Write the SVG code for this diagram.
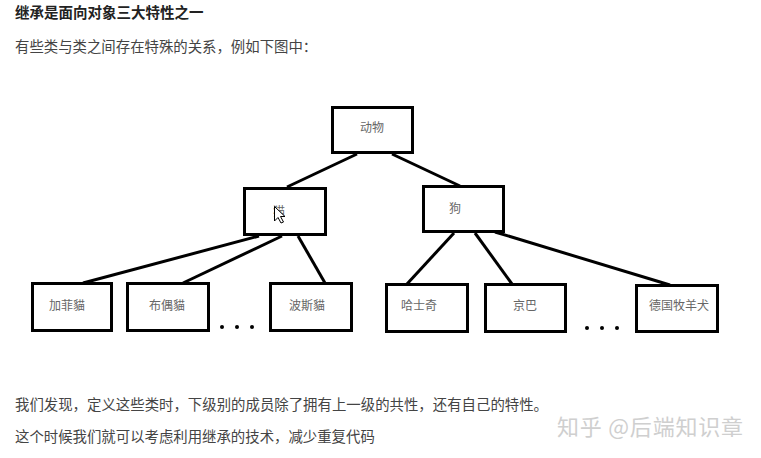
<svg xmlns="http://www.w3.org/2000/svg" width="761" height="458" viewBox="0 0 761 458">
<style>
.box{fill:#fff;stroke:#000;stroke-width:3}
.lbl{font-family:"Liberation Serif","Noto Sans CJK SC",serif;font-size:12px;fill:#666;text-anchor:middle}
.body{font-family:"Noto Sans CJK SC","Liberation Sans",sans-serif;font-size:14.4px;fill:#444}
.conn line{stroke:#000;stroke-width:3}
.dot{fill:#000}
</style>
<rect width="761" height="458" fill="#fff"/>
<text x="15" y="18" class="body" style="font-weight:bold;fill:#222;font-size:14.5px">继承是面向对象三大特性之一</text>
<text x="15" y="52" class="body">有些类与类之间存在特殊的关系，例如下图中：</text>
<g id="connectors" class="conn">
<line x1="357" y1="154" x2="287" y2="187"/>
<line x1="392" y1="154" x2="460" y2="186"/>
<line x1="259" y1="236" x2="83" y2="283"/>
<line x1="282" y1="236" x2="183" y2="283"/>
<line x1="298" y1="236" x2="325" y2="283"/>
<line x1="454" y1="233" x2="407" y2="284"/>
<line x1="475" y1="233" x2="512" y2="284"/>
<line x1="495" y1="232" x2="670" y2="285"/>
</g>
<g id="animal"><rect class="box" x="332.5" y="107.5" width="80" height="45"/><text class="lbl" x="372" y="132">动物</text></g>
<g id="cat"><rect class="box" x="244.5" y="188.5" width="81" height="46"/><text class="lbl" x="279" y="216">猫</text></g>
<g id="dog"><rect class="box" x="423.5" y="186.5" width="80" height="45"/><text class="lbl" x="455" y="213">狗</text></g>
<g id="garfield"><rect class="box" x="32.5" y="283.5" width="79" height="47"/><text class="lbl" x="67" y="310">加菲貓</text></g>
<g id="ragdoll"><rect class="box" x="127.5" y="283.5" width="81" height="47"/><text class="lbl" x="167" y="310">布偶貓</text></g>
<g id="persian"><rect class="box" x="270.5" y="283.5" width="81" height="47"/><text class="lbl" x="307" y="310">波斯貓</text></g>
<g id="husky"><rect class="box" x="386.5" y="284.5" width="81" height="47"/><text class="lbl" x="419" y="310">哈士奇</text></g>
<g id="jingba"><rect class="box" x="485.5" y="284.5" width="80" height="47"/><text class="lbl" x="525" y="310">京巴</text></g>
<g id="shepherd"><rect class="box" x="636.5" y="285.5" width="81" height="46"/><text class="lbl" x="679" y="310">德国牧羊犬</text></g>
<g id="dots-left"><circle class="dot" cx="222" cy="327" r="2"/><circle class="dot" cx="237" cy="327" r="2"/><circle class="dot" cx="252" cy="327" r="2"/></g>
<g id="dots-right"><circle class="dot" cx="587" cy="328" r="2"/><circle class="dot" cx="602" cy="328" r="2"/><circle class="dot" cx="617" cy="328" r="2"/></g>
<polygon points="274.5,206.5 274.5,221 278,217.5 281,223 283.5,222 280.5,216.5 285,216.5" fill="#fff" stroke="#000" stroke-width="1"/>
<text x="15" y="410" class="body" textLength="533">我们发现，定义这些类时，下级别的成员除了拥有上一级的共性，还有自己的特性。</text>
<text x="15" y="442" class="body">这个时候我们就可以考虑利用继承的技术，减少重复代码</text>
<text x="557" y="435" textLength="186" style="font-family:'Noto Sans CJK SC',sans-serif;font-size:22px;fill:#cfcfcf">知乎 @后端知识章</text>
</svg>
